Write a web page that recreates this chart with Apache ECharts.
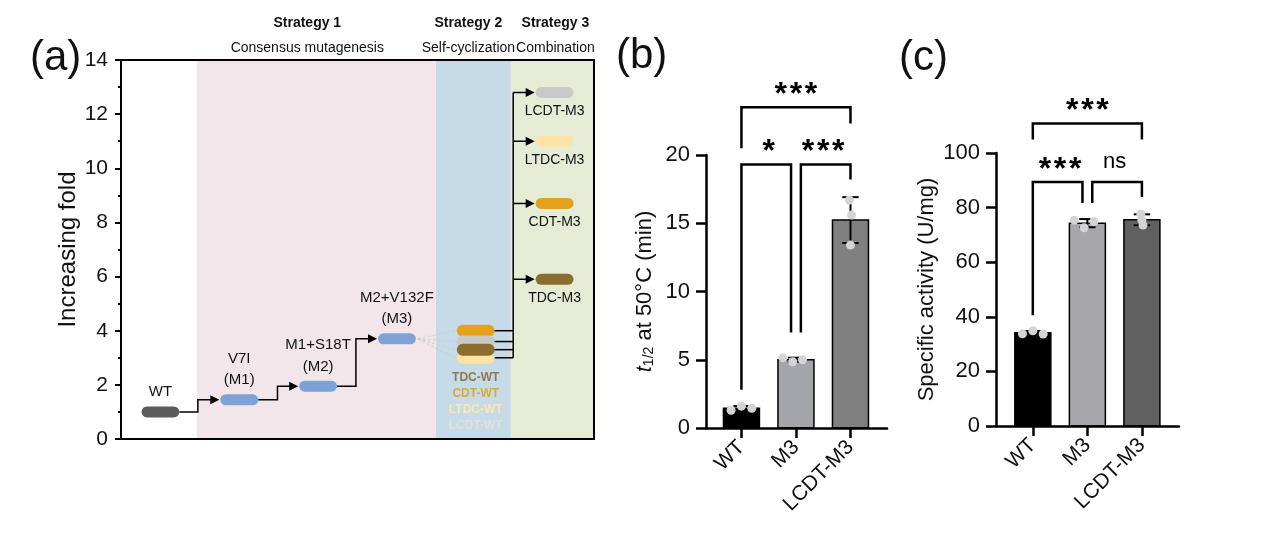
<!DOCTYPE html>
<html><head><meta charset="utf-8">
<script src="https://cdn.jsdelivr.net/npm/echarts@6/dist/echarts.min.js"></script>
<style>html,body{margin:0;padding:0;background:#fff}#c{width:1280px;height:545px}</style>
</head><body><div id="c"></div>
<script>
// ---------- Panel (a): evolution path ----------
const stageNames = ['WT', 'V7I\n(M1)', 'M1+S18T\n(M2)', 'M2+V132F\n(M3)'];
const stageX = [1, 3, 5, 7];
const stageFold = [1.0, 1.45, 1.95, 3.7];
const stepBreakX = [1.95, 3.97, 5.96];

const wtVariants = ['CDT-WT', 'LCDT-WT', 'LTDC-WT', 'TDC-WT'];
const wtVariantFold = [4.0, 3.6, 3.0, 3.3];
const wtLabelOrder = ['TDC-WT', 'CDT-WT', 'LTDC-WT', 'LCDT-WT'];
const wtVariantX = 9;

const m3Variants = ['LCDT-M3', 'LTDC-M3', 'CDT-M3', 'TDC-M3'];
const m3VariantFold = [12.8, 11.0, 8.7, 5.9];
const m3VariantX = 11;
const connectorX = 9.95;

const strategyTitles = ['Strategy 1', 'Strategy 2', 'Strategy 3'];
const strategySubtitles = ['Consensus mutagenesis', 'Self-cyclization', 'Combination'];
const bandStart = [1.92, 7.99, 9.89];
const bandEnd = [7.99, 9.89, 12];

// ---------- Panels (b) and (c) ----------
const groups = ['WT', 'M3', 'LCDT-M3'];
const halfLifePoints = [[1.3, 1.6, 1.45], [5.15, 4.85, 5.0], [16.7, 15.6, 13.4]];
const activityPoints = [[33.8, 34.9, 33.7], [75.4, 72.6, 74.9], [77.6, 73.6, 75.4]];

const halfLifeSigPairs = [[0, 2], [0, 1], [1, 2]];
const halfLifeSigLabels = ['***', '*', '***'];
const halfLifeSigHeight = [23.5, 19.3, 19.3];
const halfLifeSigLegEnds = [[20.5, 22.3], [2.8, 7.0], [7.0, 18.2]];

const activitySigPairs = [[0, 2], [0, 1], [1, 2]];
const activitySigLabels = ['***', '***', 'ns'];
const activitySigHeight = [110.8, 89.4, 89.4];
const activitySigLegEnds = [[104.9, 104.9], [40.6, 81.7], [81.7, 83.9]];

// ---------- styling ----------
const FONT = '"Liberation Sans", Arial, sans-serif';
const variantColor = { 'LCDT': '#c9c9c9', 'LTDC': '#fbe3a3', 'CDT': '#e2a21d', 'TDC': '#8b6d2d' };
const wtLabelColor = { 'TDC-WT': '#8c7b52', 'CDT-WT': '#d8aa3c', 'LTDC-WT': '#fbe8b2', 'LCDT-WT': '#e0e0e0' };
const bandColors = ['#f3e6ea', '#c7dae8', '#e5ebd4'];
const stageColors = ['#5b5b5b', '#7da2d6', '#7da2d6', '#7da2d6'];
const halfLifeBarColors = ['#000000', '#a4a4ab', '#808080'];
const activityBarColors = ['#000000', '#a6a6ab', '#606060'];
const jitter = [[-0.19, 0, 0.19], [-0.24, -0.06, 0.12], [-0.02, 0.02, 0]];
const CAP_W = 0.96, CAP_H = 11;

const prefixOf = n => n.split('-')[0];
const mean = a => a.reduce((s, v) => s + v, 0) / a.length;
const sd = a => { const m = mean(a); return Math.sqrt(a.reduce((s, v) => s + (v - m) * (v - m), 0) / (a.length - 1)); };

function capsule(api, x, y, color, h) {
  const c = api.coord([x, y]);
  const w = api.size([CAP_W, 0])[0];
  h = h || CAP_H;
  return { type: 'rect', shape: { x: c[0] - w / 2, y: c[1] - h / 2, width: w, height: h, r: h / 2 }, style: { fill: color } };
}
function arrowHead(p) {
  return { type: 'polygon', shape: { points: [[p[0], p[1]], [p[0] - 9, p[1] - 4.5], [p[0] - 9, p[1] + 4.5]] }, style: { fill: '#000' } };
}
function txt(text, x, y, size, opts) {
  return { type: 'text', style: Object.assign({ text: text, x: x, y: y, fontSize: size, fontFamily: FONT, fill: '#111', align: 'center', verticalAlign: 'middle' }, opts || {}) };
}

function barSeries(xi, pts, colors) {
  return {
    type: 'custom', xAxisIndex: xi, yAxisIndex: xi, z: 2, silent: true,
    data: pts.map((p, i) => [i, mean(p)]),
    renderItem: (params, api) => {
      const top = api.coord([api.value(0), api.value(1)]);
      const base = api.coord([api.value(0), 0]);
      const w = api.size([0.66, 0])[0];
      return { type: 'rect', shape: { x: top[0] - w / 2, y: top[1], width: w, height: base[1] - top[1] },
        style: { fill: colors[params.dataIndex], stroke: '#000', lineWidth: 1.5 } };
    }
  };
}
function errSeries(xi, pts) {
  return {
    type: 'custom', xAxisIndex: xi, yAxisIndex: xi, z: 3, silent: true,
    data: pts.map((p, i) => [i, mean(p), sd(p)]),
    renderItem: (params, api) => {
      const x = api.value(0), m = api.value(1), s = api.value(2);
      const hi = api.coord([x, m + s]), lo = api.coord([x, m - s]);
      const cw = api.size([0.3, 0])[0] / 2;
      const st = { stroke: '#000', lineWidth: 2 };
      return { type: 'group', children: [
        { type: 'line', shape: { x1: hi[0], y1: hi[1], x2: lo[0], y2: lo[1] }, style: st },
        { type: 'line', shape: { x1: hi[0] - cw, y1: hi[1], x2: hi[0] + cw, y2: hi[1] }, style: st },
        { type: 'line', shape: { x1: lo[0] - cw, y1: lo[1], x2: lo[0] + cw, y2: lo[1] }, style: st }
      ] };
    }
  };
}
function pointSeries(xi, pts) {
  const data = [];
  pts.forEach((p, i) => p.forEach((v, k) => data.push([i + jitter[i][k], v])));
  return { type: 'scatter', xAxisIndex: xi, yAxisIndex: xi, z: 4, silent: true, symbolSize: 9,
    itemStyle: { color: '#d4d4d4', opacity: 1 }, data: data };
}
function sigSeries(xi, pairs, labels, heights, legs) {
  const adjacentShared = (i, e) => pairs.some((q, j) => j !== i && q[1] - q[0] === 1 && (q[0] === e || q[1] === e));
  return {
    type: 'custom', xAxisIndex: xi, yAxisIndex: xi, z: 5, silent: true, clip: false,
    data: pairs.map((p, i) => [p[0], heights[i]]),
    renderItem: (params, api) => {
      const i = params.dataIndex, p = pairs[i];
      let x0 = p[0], x1 = p[1];
      if (p[1] - p[0] === 1) {
        if (adjacentShared(i, x0)) x0 += 0.09;
        if (adjacentShared(i, x1)) x1 -= 0.09;
      }
      const a = api.coord([x0, legs[i][0]]), b = api.coord([x0, heights[i]]);
      const c = api.coord([x1, heights[i]]), d = api.coord([x1, legs[i][1]]);
      const star = labels[i].indexOf('*') >= 0;
      const label = star ? labels[i].split('').join('\u200A') : labels[i];
      const tx = (p[0] + p[1]) / 2;
      const tc = api.coord([tx, heights[i]]);
      return { type: 'group', children: [
        { type: 'polyline', shape: { points: [a, b, c, d] }, style: { stroke: '#000', lineWidth: 2.5, fill: null } },
        txt(label, tc[0], b[1] - (star ? 12 : 20), star ? 32 : 22, { fontWeight: star ? 'bold' : 'normal', fill: '#000' })
      ] };
    }
  };
}

const axisLineStyle = w => ({ show: true, onZero: false, lineStyle: { color: '#000', width: w } });

const option = {
  animation: false,
  backgroundColor: '#fff',
  textStyle: { fontFamily: FONT },
  grid: [
    { left: 121, top: 60, width: 473, height: 379 },
    { left: 706, top: 155, width: 181, height: 273 },
    { left: 996, top: 153, width: 183, height: 273 }
  ],
  xAxis: [
    { gridIndex: 0, type: 'value', min: 0, max: 12, z: 10, axisLine: axisLineStyle(2), axisTick: { show: false }, axisLabel: { show: false }, splitLine: { show: false } },
    { gridIndex: 0, type: 'value', position: 'top', min: 0, max: 12, z: 10, axisLine: axisLineStyle(2), axisTick: { show: false }, axisLabel: { show: false }, splitLine: { show: false } },
    { gridIndex: 1, type: 'value', min: -0.65, max: 2.67, z: 10, axisLine: axisLineStyle(2.5),
      axisTick: { show: true, customValues: [0, 1, 2], length: 10, lineStyle: { color: '#000', width: 2.5 } },
      axisLabel: { show: true, customValues: [0, 1, 2], formatter: v => groups[Math.round(v)], rotate: 45, fontSize: 21, color: '#111', margin: 16, fontFamily: FONT },
      splitLine: { show: false } },
    { gridIndex: 2, type: 'value', min: -0.675, max: 2.68, z: 10, axisLine: axisLineStyle(2.5),
      axisTick: { show: true, customValues: [0, 1, 2], length: 10, lineStyle: { color: '#000', width: 2.5 } },
      axisLabel: { show: true, customValues: [0, 1, 2], formatter: v => groups[Math.round(v)], rotate: 45, fontSize: 21, color: '#111', margin: 16, fontFamily: FONT },
      splitLine: { show: false } }
  ],
  yAxis: [
    { gridIndex: 0, type: 'value', min: 0, max: 14, interval: 2, z: 10, axisLine: axisLineStyle(2),
      axisTick: { show: true, length: 6, lineStyle: { color: '#000', width: 2 } },
      minorTick: { show: true, splitNumber: 2, length: 3, lineStyle: { color: '#000', width: 2 } },
      axisLabel: { fontSize: 21, color: '#111', margin: 13, fontFamily: FONT },
      splitLine: { show: false },
      name: 'Increasing fold', nameLocation: 'middle', nameGap: 38, nameTextStyle: { fontSize: 24, color: '#111', fontFamily: FONT } },
    { gridIndex: 0, type: 'value', position: 'right', min: 0, max: 14, z: 10, axisLine: axisLineStyle(2), axisTick: { show: false }, axisLabel: { show: false }, splitLine: { show: false } },
    { gridIndex: 1, type: 'value', min: 0, max: 20, interval: 5, z: 10, axisLine: axisLineStyle(2.5),
      axisTick: { show: true, length: 10, lineStyle: { color: '#000', width: 2.5 } },
      axisLabel: { fontSize: 22, color: '#111', margin: 16, fontFamily: FONT },
      splitLine: { show: false },
      name: '{i|t}{s|1/2} at 50°C (min)', nameLocation: 'middle', nameGap: 50,
      nameTextStyle: { fontSize: 22, color: '#111', fontFamily: FONT,
        rich: { i: { fontSize: 22, fontStyle: 'italic', fontFamily: FONT, color: '#111' }, s: { fontSize: 14, fontFamily: FONT, color: '#111', verticalAlign: 'bottom', padding: [8, 0, 0, 0] } } } },
    { gridIndex: 2, type: 'value', min: 0, max: 100, interval: 20, z: 10, axisLine: axisLineStyle(2.5),
      axisTick: { show: true, length: 10, lineStyle: { color: '#000', width: 2.5 } },
      axisLabel: { fontSize: 22, color: '#111', margin: 16, fontFamily: FONT },
      splitLine: { show: false },
      name: 'Specific activity (U/mg)', nameLocation: 'middle', nameGap: 58, nameTextStyle: { fontSize: 22, color: '#111', fontFamily: FONT } }
  ],
  graphic: [
    { type: 'text', x: 30, y: 58, style: { text: '(a)', fontSize: 42, fontFamily: FONT, fill: '#111', verticalAlign: 'middle' } },
    { type: 'text', x: 616, y: 56, style: { text: '(b)', fontSize: 42, fontFamily: FONT, fill: '#111', verticalAlign: 'middle' } },
    { type: 'text', x: 899, y: 58, style: { text: '(c)', fontSize: 42, fontFamily: FONT, fill: '#111', verticalAlign: 'middle' } }
  ],
  series: [
    // background bands with strategy headings
    { type: 'custom', xAxisIndex: 0, yAxisIndex: 0, z: 1, silent: true, clip: false,
      data: bandStart.map((s, i) => [s, bandEnd[i]]),
      renderItem: (params, api) => {
        const i = params.dataIndex;
        const a = api.coord([api.value(0), 14]), b = api.coord([api.value(1), 0]);
        const cx = i === 0 ? (a[0] + b[0]) / 2 - 9 : (i === 1 ? (a[0] + b[0]) / 2 - 5 : (a[0] + b[0]) / 2 + 3);
        return { type: 'group', children: [
          { type: 'rect', shape: { x: a[0], y: a[1], width: b[0] - a[0], height: b[1] - a[1] }, style: { fill: bandColors[i] } },
          txt(strategyTitles[i], cx, a[1] - 37, 14, { fontWeight: 'bold', fill: '#111' }),
          txt(strategySubtitles[i], cx, a[1] - 12, 14, { fill: '#111' })
        ] };
      } },
    // step connectors with arrows
    { type: 'custom', xAxisIndex: 0, yAxisIndex: 0, z: 3, silent: true, clip: false,
      data: stepBreakX.map((bx, i) => [bx, stageFold[i]]),
      renderItem: (params, api) => {
        const i = params.dataIndex;
        const s = api.coord([stageX[i] + CAP_W / 2, stageFold[i]]);
        const b1 = api.coord([stepBreakX[i], stageFold[i]]);
        const b2 = api.coord([stepBreakX[i], stageFold[i + 1]]);
        const e = api.coord([stageX[i + 1] - CAP_W / 2, stageFold[i + 1]]);
        return { type: 'group', children: [
          { type: 'polyline', shape: { points: [s, b1, b2, [e[0] - 6, e[1]]] }, style: { stroke: '#000', lineWidth: 1.5, fill: null } },
          arrowHead([e[0] - 1, e[1]])
        ] };
      } },
    // stage capsules and labels
    { type: 'custom', xAxisIndex: 0, yAxisIndex: 0, z: 4, silent: true, clip: false,
      data: stageX.map((x, i) => [x, stageFold[i]]),
      renderItem: (params, api) => {
        const i = params.dataIndex;
        const c = api.coord([api.value(0), api.value(1)]);
        return { type: 'group', children: [
          capsule(api, api.value(0), api.value(1), stageColors[i]),
          txt(stageNames[i], c[0], c[1] - 9, 15, { verticalAlign: 'bottom', lineHeight: 21.5 })
        ] };
      } },
    // wild-type self-cyclized variants (stacked capsules) with faint fan from M3 and connectors to the trunk
    { type: 'custom', xAxisIndex: 0, yAxisIndex: 0, z: 4, silent: true, clip: false,
      data: wtVariants.map((n, i) => [wtVariantX, wtVariantFold[i]]),
      renderItem: (params, api) => {
        const i = params.dataIndex, n = wtVariants[i];
        const x = api.value(0), y = api.value(1);
        const from = api.coord([stageX[3] + CAP_W / 2 + 0.05, stageFold[3]]);
        const to = api.coord([x - CAP_W / 2 - 0.05, y]);
        const r = api.coord([x + CAP_W / 2, y]);
        const t = api.coord([connectorX, y]);
        const minY = Math.min.apply(null, wtVariantFold);
        const base = api.coord([x, minY]);
        const k = wtLabelOrder.indexOf(n);
        return { type: 'group', children: [
          { type: 'line', shape: { x1: from[0], y1: from[1], x2: to[0], y2: to[1] }, style: { stroke: 'rgba(200,200,200,0.55)', lineWidth: 1.5, lineDash: [3, 2] } },
          { type: 'line', shape: { x1: r[0] - 4, y1: r[1], x2: t[0], y2: t[1] }, style: { stroke: '#000', lineWidth: 1.5 } },
          capsule(api, x, y, variantColor[prefixOf(n)], 12),
          txt(n, base[0], base[1] + 20 + k * 16, 12, { fontWeight: 'bold', fill: wtLabelColor[n] })
        ] };
      } },
    // trunk connecting the combination variants
    { type: 'line', xAxisIndex: 0, yAxisIndex: 0, z: 3, silent: true, symbol: 'none',
      lineStyle: { color: '#000', width: 1.5 },
      data: [[connectorX, Math.max.apply(null, m3VariantFold)], [connectorX, Math.min.apply(null, wtVariantFold)]] },
    // combination variants with arrows
    { type: 'custom', xAxisIndex: 0, yAxisIndex: 0, z: 4, silent: true, clip: false,
      data: m3Variants.map((n, i) => [m3VariantX, m3VariantFold[i]]),
      renderItem: (params, api) => {
        const i = params.dataIndex, n = m3Variants[i];
        const x = api.value(0), y = api.value(1);
        const t = api.coord([connectorX, y]);
        const e = api.coord([x - CAP_W / 2, y]);
        const c = api.coord([x, y]);
        return { type: 'group', children: [
          { type: 'line', shape: { x1: t[0], y1: t[1], x2: e[0] - 6, y2: e[1] }, style: { stroke: '#000', lineWidth: 1.5 } },
          arrowHead([e[0] - 1, e[1]]),
          capsule(api, x, y, variantColor[prefixOf(n)]),
          txt(n, c[0], c[1] + 19, 14)
        ] };
      } },
    // panel (b)
    barSeries(2, halfLifePoints, halfLifeBarColors),
    errSeries(2, halfLifePoints),
    pointSeries(2, halfLifePoints),
    sigSeries(2, halfLifeSigPairs, halfLifeSigLabels, halfLifeSigHeight, halfLifeSigLegEnds),
    // panel (c)
    barSeries(3, activityPoints, activityBarColors),
    errSeries(3, activityPoints),
    pointSeries(3, activityPoints),
    sigSeries(3, activitySigPairs, activitySigLabels, activitySigHeight, activitySigLegEnds)
  ]
};
const chart = echarts.init(document.getElementById('c'));
chart.setOption(option);
</script></body></html>
